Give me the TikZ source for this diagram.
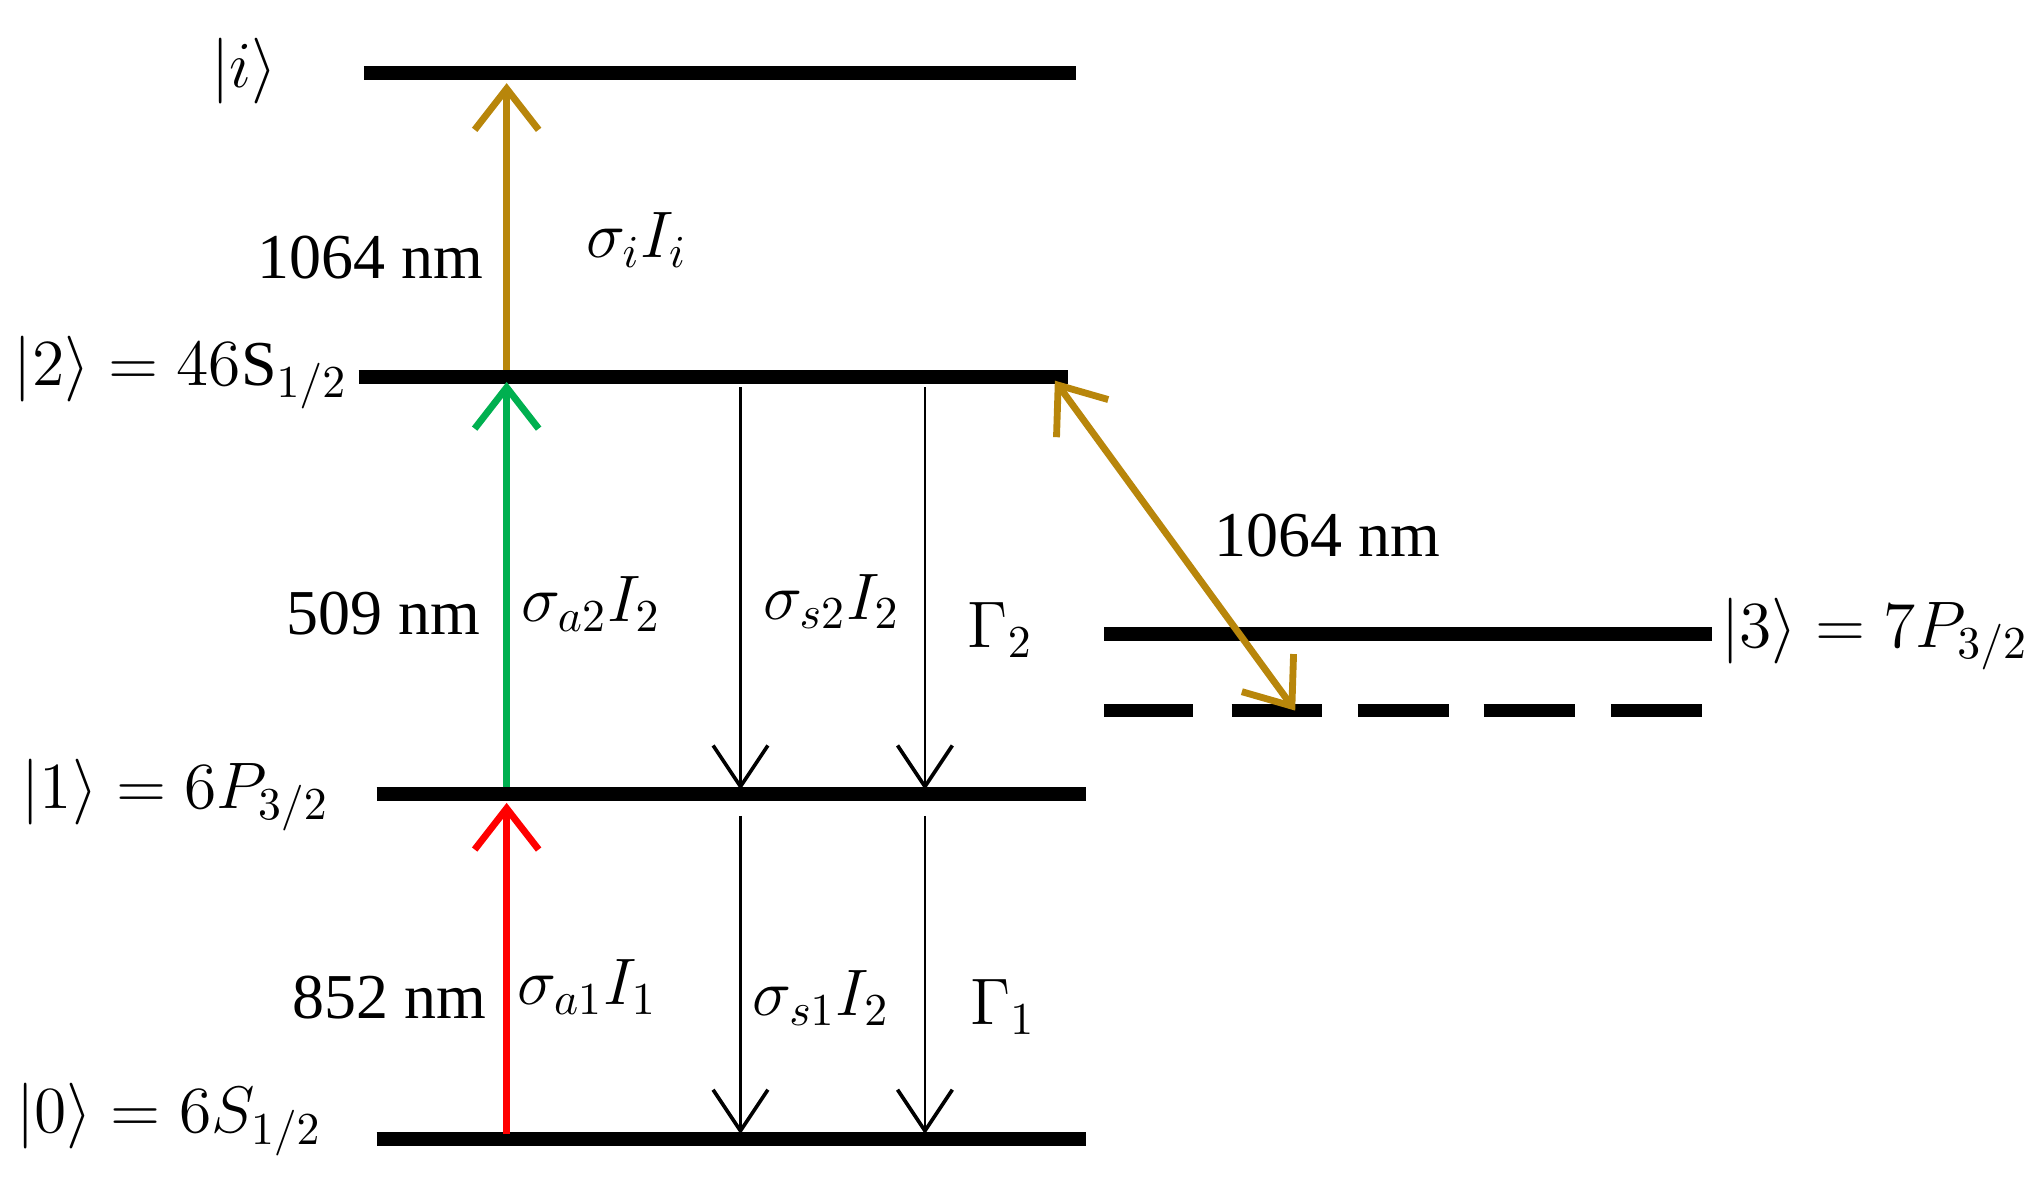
\documentclass[tikz,border=0pt]{standalone}
\usepackage{fontspec}
\setmainfont{Liberation Serif}
\usetikzlibrary{arrows.meta}
\begin{document}
\begin{tikzpicture}[x=0.01cm,y=-0.01cm,
  lvl/.style={line width=3pt},
  las/.style={line width=1.5pt,-{Straight Barb[length=9pt,width=14pt,line width=1.5pt]}},
  dec/.style={line width=0.6pt,-{Straight Barb[length=9pt,width=12pt,line width=0.8pt]}},
  lab/.style={font=\fontsize{14}{16}\selectfont,inner sep=0pt}]
\useasboundingbox (0,0) rectangle (1568,918);
\definecolor{gold}{RGB}{184,134,11}
\definecolor{lgreen}{RGB}{0,176,80}
\coordinate (i0) at (280,56); \coordinate (i1) at (828,56);
\coordinate (s0) at (276,290); \coordinate (s1) at (822,290);
\coordinate (p0) at (290,611); \coordinate (p1) at (836,611);
\coordinate (g0) at (290,877); \coordinate (g1) at (836,877);
\coordinate (t0) at (850,488); \coordinate (t1) at (1318,488);
\draw[lvl] (i0)--(i1); \draw[lvl] (s0)--(s1); \draw[lvl] (p0)--(p1);
\draw[lvl] (g0)--(g1); \draw[lvl] (t0)--(t1);
\foreach \a/\b in {850/918,948/1018,1045/1115,1142/1212,1240/1310}
  \draw[lvl] (\a,547)--(\b,547);
\coordinate (ra) at (390,873); \coordinate (rb) at (390,618);
\coordinate (ga) at (390,606); \coordinate (gb) at (390,294);
\coordinate (ya) at (390,285); \coordinate (yb) at (390,64);
\draw[las,red] (ra)--(rb);
\draw[las,lgreen] (ga)--(gb);
\draw[las,gold] (ya)--(yb);
\coordinate (da) at (812,293); \coordinate (db) at (997,547);
\draw[las,gold,{Straight Barb[length=9pt,width=14pt,line width=1.5pt]}-{Straight Barb[length=9pt,width=14pt,line width=1.5pt]}] (da)--(db);
\coordinate (a1) at (570,298); \coordinate (a2) at (570,608);
\coordinate (b1) at (712,298); \coordinate (b2) at (712,608);
\coordinate (c1) at (570,628); \coordinate (c2) at (570,873);
\coordinate (e1) at (712,628); \coordinate (e2) at (712,873);
\draw[dec] (a1)--(a2); \draw[dec] (b1)--(b2);
\draw[dec] (c1)--(c2); \draw[dec] (e1)--(e2);
\node[lab] (li) at (188,55) {$\left|i\right\rangle$};
\node[lab] (l1064a) at (285,198) {1064 nm};
\node[lab] (lsi) at (490,185) {$\sigma_i I_i$};
\node[lab,anchor=west] (l2) at (10,287) {$\left|2\right\rangle=46\mathrm{S}_{1/2}$};
\node[lab] (l509) at (295,472) {509 nm};
\node[lab] (lsa2) at (455,465) {$\sigma_{a2}I_2$};
\node[lab] (lss2) at (640,463) {$\sigma_{s2}I_2$};
\node[lab] (lG2) at (770,485) {$\Gamma_2$};
\node[lab] (l1064b) at (1022,412) {1064 nm};
\node[lab,anchor=east] (l3) at (1562,488) {$\left|3\right\rangle=7P_{3/2}$};
\node[lab,anchor=west] (l1) at (16,612) {$\left|1\right\rangle=6P_{3/2}$};
\node[lab] (l852) at (300,768) {852 nm};
\node[lab] (lsa1) at (452,760) {$\sigma_{a1}I_1$};
\node[lab] (lss1) at (632,768) {$\sigma_{s1}I_2$};
\node[lab] (lG1) at (772,775) {$\Gamma_1$};
\node[lab,anchor=west] (l0) at (12,862) {$\left|0\right\rangle=6S_{1/2}$};
\end{tikzpicture}
\end{document}
